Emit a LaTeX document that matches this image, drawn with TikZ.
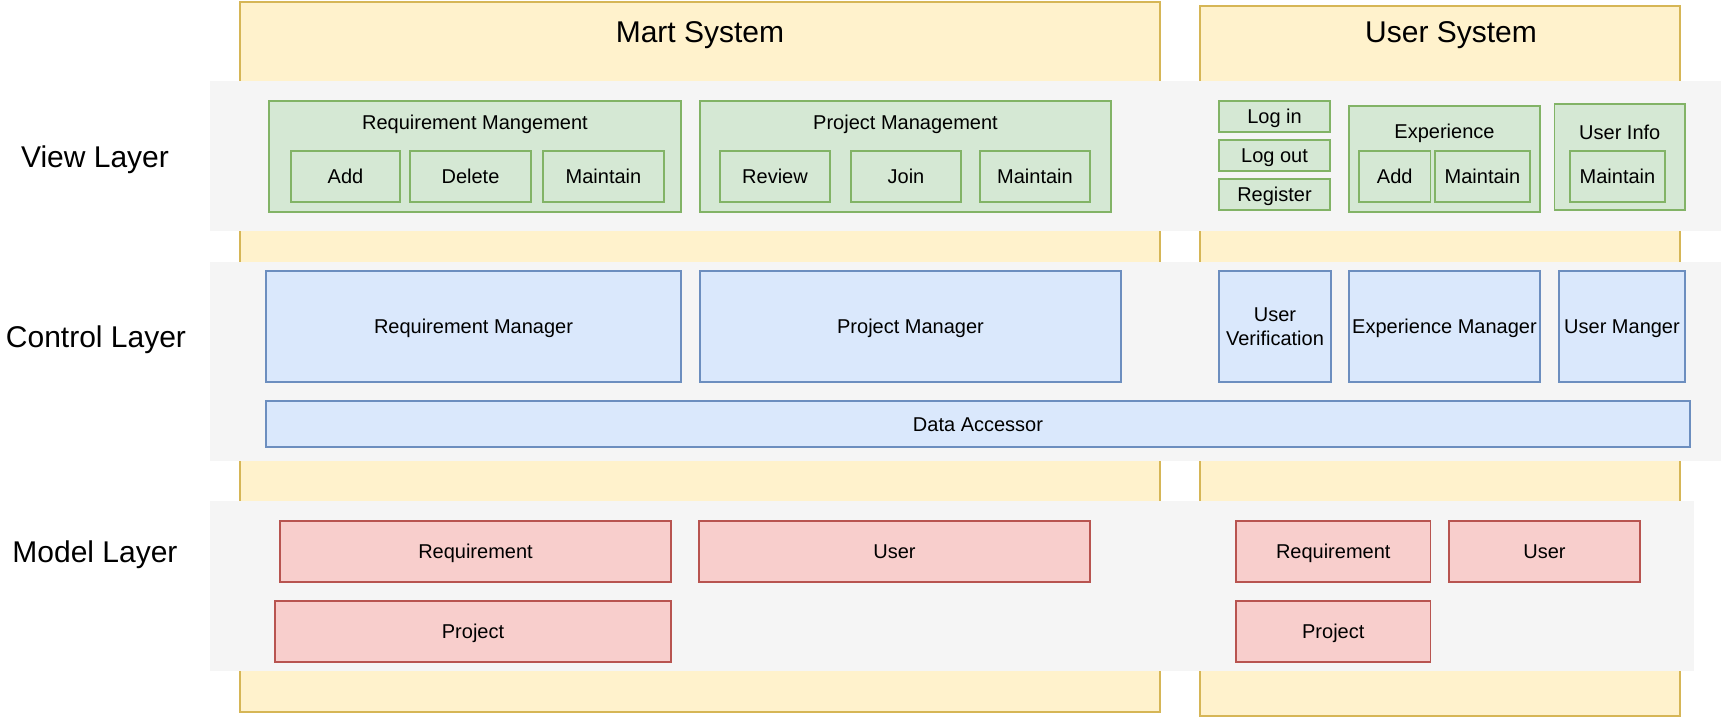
\documentclass[tikz,border=0pt]{standalone}
\usepackage{fontspec}
\setmainfont{Liberation Sans}
\usetikzlibrary{positioning}
\definecolor{sysfill}{HTML}{FFF2CC}
\definecolor{sysline}{HTML}{D6B656}
\definecolor{bandfill}{HTML}{F5F5F5}
\definecolor{viewfill}{HTML}{D5E8D4}
\definecolor{viewline}{HTML}{82B366}
\definecolor{ctrlfill}{HTML}{DAE8FC}
\definecolor{ctrlline}{HTML}{6C8EBF}
\definecolor{modelfill}{HTML}{F8CECC}
\definecolor{modelline}{HTML}{B85450}
\tikzset{
  sysbox/.style={draw=sysline,fill=sysfill,line width=0.75pt,inner sep=0pt},
  band/.style={fill=bandfill,inner sep=0pt},
  small/.style={font=\fontsize{10}{12}\selectfont,align=center,text height=9.2pt,text depth=2pt},
  big/.style={font=\fontsize{15}{18}\selectfont,text height=13.8pt,text depth=3pt},
  viewbox/.style={small,draw=viewline,fill=viewfill,line width=0.75pt,inner sep=0pt},
  ctrlbox/.style={small,draw=ctrlline,fill=ctrlfill,line width=0.75pt,inner sep=0pt},
  modelbox/.style={small,draw=modelline,fill=modelfill,line width=0.75pt,inner sep=0pt},
  boxsize/.style 2 args={minimum width=#1pt,minimum height=#2pt}
}

\begin{document}
\begin{tikzpicture}[x=0.5pt,y=-0.5pt]
  \useasboundingbox (0,0) rectangle (1721,717);
  \node[sysbox,boxsize={460}{355}] (mart) at (700,357) {};
  \node[sysbox,boxsize={240}{355}] (usersys) at (1440,361) {};
  \node[big] (marttitle) at (700,32) {Mart System};
  \node[big] (usertitle) at (1451,32) {User System};

  \node[band,boxsize={755.5}{75}] (viewband) at (965.5,156) {};
  \node[band,boxsize={755.5}{99.5}] (ctrlband) at (965.5,361.5) {};
  \node[band,boxsize={742}{85}] (modelband) at (952,586) {};
  \node[big] (viewlbl) at (95,157) {View Layer};
  \node[big] (ctrllbl) at (96,337) {Control Layer};
  \node[big] (modellbl) at (95,552) {Model Layer};

  \node[viewbox,boxsize={206}{55.5}] (reqmgmt) at (475,156.5) {};
  \node[small] (reqmgmttxt) at (475,122) {Requirement Mangement};
  \node[viewbox,boxsize={54.5}{25.5}] (reqadd) at (345.5,176.5) {Add};
  \node[viewbox,boxsize={60.5}{25.5}] (reqdel) at (470.5,176.5) {Delete};
  \node[viewbox,boxsize={60.5}{25.5}] (reqmnt) at (603.5,176.5) {Maintain};

  \node[viewbox,boxsize={205.5}{55.5}] (prjmgmt) at (905.5,156.5) {};
  \node[small] (prjmgmttxt) at (905.5,122) {Project Management};
  \node[viewbox,boxsize={55}{25.5}] (review) at (775,176.5) {Review};
  \node[viewbox,boxsize={55}{25.5}] (join) at (906,176.5) {Join};
  \node[viewbox,boxsize={55}{25.5}] (prjmnt) at (1035,176.5) {Maintain};

  \node[viewbox,boxsize={55.5}{15.5}] (login) at (1274.5,116.5) {Log in};
  \node[viewbox,boxsize={55.5}{15.5}] (logout) at (1274.5,155.5) {Log out};
  \node[viewbox,boxsize={55.5}{15.5}] (register) at (1274.5,194.5) {Register};

  \node[viewbox,boxsize={95.5}{53}] (experience) at (1444.5,159) {};
  \node[small] (experiencetxt) at (1444.5,131) {Experience};
  \node[viewbox,boxsize={35.75}{25.5}] (expadd) at (1394.75,176.5) {Add};
  \node[viewbox,boxsize={47.5}{25.5}] (expmnt) at (1482.5,176.5) {Maintain};

  \node[viewbox,boxsize={65.25}{53}] (userinfo) at (1619.75,157) {};
  \node[small] (userinfotxt) at (1619.75,132) {User Info};
  \node[viewbox,boxsize={47.5}{25.5}] (uimnt) at (1617.5,176.5) {Maintain};

  \node[ctrlbox,boxsize={207.5}{55.5}] (reqmgr) at (473.5,326.5) {Requirement Manager};
  \node[ctrlbox,boxsize={210.5}{55.5}] (prjmgr) at (910.5,326.5) {Project Manager};
  \node[ctrlbox,boxsize={56}{55.5},text height=,text depth=] (userver) at (1275,326.5) {User\\Verification};
  \node[ctrlbox,boxsize={95.5}{55.5}] (expmgr) at (1444.5,326.5) {Experience Manager};
  \node[ctrlbox,boxsize={63}{55.5}] (usermgr) at (1622,326.5) {User Manger};
  \node[ctrlbox,boxsize={712}{23}] (dataacc) at (978,424) {Data Accessor};

  \node[modelbox,boxsize={195.5}{30.5}] (mreq) at (475.5,551.5) {Requirement};
  \node[modelbox,boxsize={195.5}{30.5}] (muser) at (894.5,551.5) {User};
  \node[modelbox,boxsize={198}{30.5}] (mprj) at (473,631.5) {Project};
  \node[modelbox,boxsize={97.25}{30.5}] (ureq) at (1333.25,551.5) {Requirement};
  \node[modelbox,boxsize={95.5}{30.5}] (uuser) at (1544.5,551.5) {User};
  \node[modelbox,boxsize={97.25}{30.5}] (uprj) at (1333.25,631.5) {Project};
\end{tikzpicture}
\end{document}
